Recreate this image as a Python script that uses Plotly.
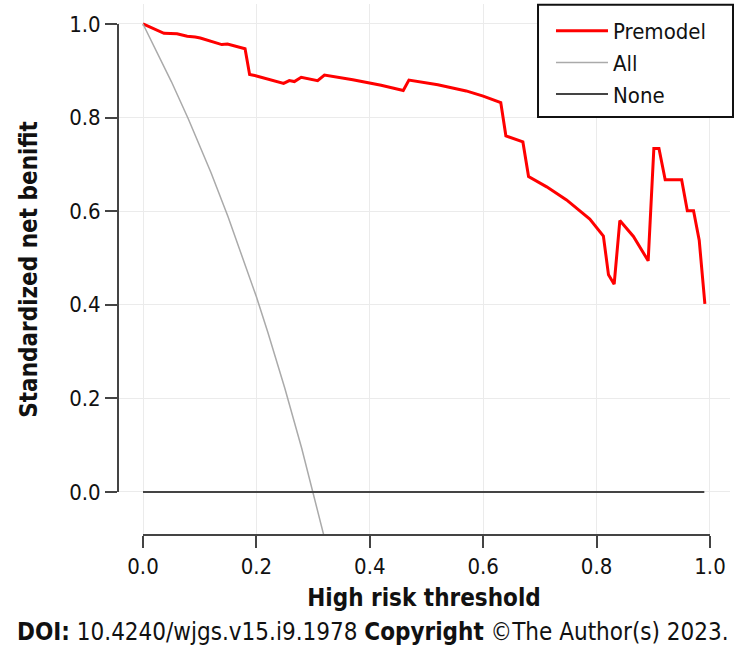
import plotly.graph_objects as go

# Premodel decision curve
pre_x = [0, 0.0105, 0.037, 0.06, 0.078, 0.092, 0.101, 0.139, 0.149, 0.18, 0.188, 0.197,
         0.248, 0.258, 0.267, 0.279, 0.308, 0.32, 0.37, 0.42, 0.459, 0.469, 0.52, 0.57,
         0.60, 0.631, 0.640, 0.670, 0.680, 0.712, 0.747, 0.788, 0.812, 0.821, 0.831,
         0.841, 0.865, 0.891, 0.901, 0.910, 0.921, 0.950, 0.960, 0.971, 0.981, 0.991]
pre_y = [1.0, 0.994, 0.98, 0.979, 0.974, 0.972, 0.970, 0.956, 0.957, 0.947, 0.892, 0.890,
         0.873, 0.879, 0.877, 0.886, 0.879, 0.891, 0.881, 0.869, 0.858, 0.880, 0.870, 0.857,
         0.846, 0.832, 0.761, 0.748, 0.674, 0.652, 0.624, 0.583, 0.547, 0.464, 0.444,
         0.580, 0.546, 0.494, 0.734, 0.734, 0.667, 0.667, 0.601, 0.601, 0.538, 0.402]

# Treat-all curve
all_x = [0, 0.02, 0.05, 0.08, 0.10, 0.12, 0.15, 0.18, 0.20, 0.22, 0.25, 0.28, 0.30, 0.32]
all_y = [1.0, 0.952, 0.877, 0.797, 0.741, 0.682, 0.588, 0.488, 0.417, 0.342, 0.222, 0.093, 0.0, -0.098]

# Treat-none
none_x = [0, 0.99]
none_y = [0, 0]

tick_vals = [0.0, 0.2, 0.4, 0.6, 0.8, 1.0]
tick_text = ["0.0", "0.2", "0.4", "0.6", "0.8", "1.0"]

FONT = "Tahoma, 'DejaVu Sans Condensed', 'DejaVu Sans', sans-serif"

fig = go.Figure()
fig.add_trace(go.Scatter(x=pre_x, y=pre_y, mode="lines", name="Premodel",
                         line=dict(color="#ff0000", width=3)))
fig.add_trace(go.Scatter(x=all_x, y=all_y, mode="lines", name="All",
                         line=dict(color="#aaaaaa", width=1.5)))
fig.add_trace(go.Scatter(x=none_x, y=none_y, mode="lines", name="None",
                         line=dict(color="#444444", width=2)))

fig.update_layout(
    width=746, height=649,
    margin=dict(l=118, r=16, t=4, b=114),
    paper_bgcolor="white", plot_bgcolor="white",
    font=dict(family=FONT, size=22, color="#111111"),
    showlegend=True,
    legend=dict(x=0.7075, y=0.9887, xanchor="left", yanchor="top",
                borderwidth=0, bgcolor="rgba(0,0,0,0)",
                font=dict(size=22), itemwidth=52, tracegroupgap=0),
    xaxis=dict(range=[-0.0441, 1.0353], tickvals=tick_vals, ticktext=tick_text,
               automargin=False, tickfont=dict(size=22),
               showgrid=True, gridcolor="#ebebeb", gridwidth=1, zeroline=False,
               showline=False, ticks="outside", ticklen=12, tickwidth=2, tickcolor="#444444",
               title=dict(text="<b>High risk threshold</b>", standoff=10,
                          font=dict(size=24))),
    yaxis=dict(range=[-0.0919, 1.0427], tickvals=tick_vals, ticktext=tick_text,
               automargin=False, tickfont=dict(size=22),
               showgrid=True, gridcolor="#ebebeb", gridwidth=1, zeroline=False,
               showline=False, ticks="outside", ticklen=12, tickwidth=2, tickcolor="#444444",
               title=dict(text="<b>Standardized net benifit</b>", standoff=24,
                          font=dict(size=24))),
)

# offset axis lines spanning 0..1
fig.add_shape(type="line", xref="paper", yref="y", x0=0, x1=0, y0=0, y1=1,
              line=dict(color="#444444", width=2))
fig.add_shape(type="line", xref="x", yref="paper", x0=0, x1=1, y0=0, y1=0,
              line=dict(color="#444444", width=2))
# legend frame
fig.add_shape(type="rect", xref="paper", yref="paper", x0=0.6863, x1=1.0049, y0=0.7872, y1=0.9985,
              line=dict(color="#111111", width=2), fillcolor="white", layer="above")

fig.add_annotation(xref="paper", yref="paper", x=0.4167, y=-0.153, xanchor="center", yanchor="top",
                   showarrow=False,
                   text="<b>DOI:</b> 10.4240/wjgs.v15.i9.1978 <b>Copyright</b> ©The Author(s) 2023.",
                   font=dict(size=24, color="#111111"))

fig.write_html("out.html", config={"displayModeBar": False},
               post_script="document.body.style.margin='0';")
